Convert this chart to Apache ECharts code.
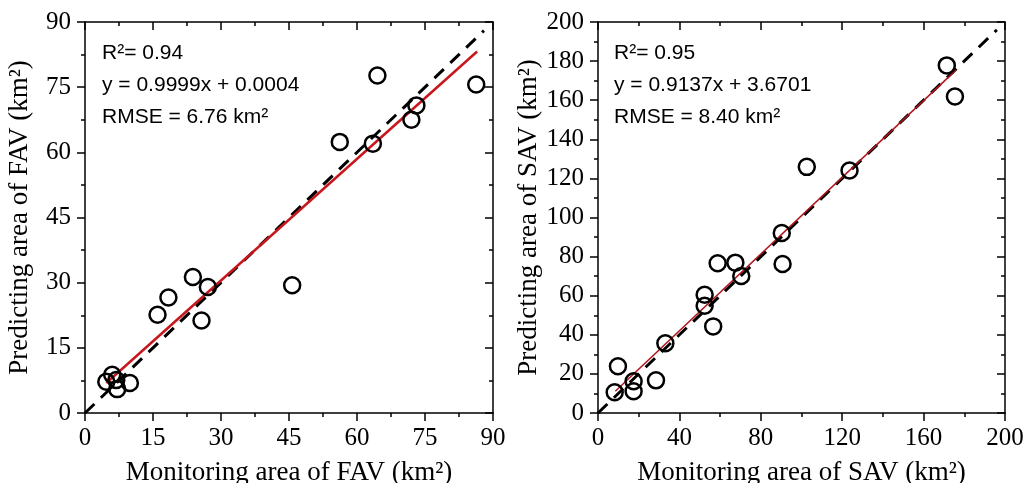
<!DOCTYPE html>
<html>
<head>
<meta charset="utf-8">
<script src="https://cdn.jsdelivr.net/npm/echarts@6/dist/echarts.min.js"></script>
<style>html,body{margin:0;padding:0;background:#fff}#c{width:1025px;height:483px}</style>
</head>
<body>
<div id="c"></div>
<script>
// FAV panel data (monitoring km², predicting km²)
const favMonitor = [86.3, 64.5, 73.1, 72.0, 63.5, 56.2, 45.7, 23.8, 27.1, 18.4, 16.0, 25.7, 4.7, 6.0, 6.9, 7.1, 9.9];
const favPredict = [75.6, 77.7, 70.8, 67.5, 62.0, 62.4, 29.4, 31.3, 29.0, 26.6, 22.6, 21.3, 7.2, 8.8, 7.6, 5.5, 6.9];
const favFitX = [4.7, 86.5];
const favFitY = [6.9, 83.2];
const favOneX = [0, 88];
const favOneY = [0, 88];
const favTicks = {min: 0, max: 90, interval: 15};
const favText = ['R²= 0.94', 'y = 0.9999x + 0.0004', 'RMSE = 6.76 km²'];

// SAV panel data
const savMonitor = [171.4, 175.4, 102.6, 123.6, 90.3, 90.7, 58.8, 67.5, 70.4, 52.4, 52.4, 56.6, 33.1, 9.8, 8.2, 17.5, 17.5, 28.5];
const savPredict = [177.8, 161.9, 125.9, 124.0, 92.1, 76.2, 76.6, 76.9, 70.1, 60.5, 54.9, 44.3, 35.7, 23.9, 10.6, 16.2, 11.1, 16.7];
const savFitX = [8.5, 176];
const savFitY = [11.1, 175.5];
const savOneX = [0, 196];
const savOneY = [0, 196];
const savXTicks = {min: 0, max: 200, interval: 40};
const savYTicks = {min: 0, max: 200, interval: 20};
const savText = ['R²= 0.95', 'y = 0.9137x + 3.6701', 'RMSE = 8.40 km²'];

const xNames = ['Monitoring area of FAV (km²)', 'Monitoring area of SAV (km²)'];
const yNames = ['Predicting area of FAV (km²)', 'Predicting area of SAV (km²)'];

const SERIF = 'Liberation Serif';
const zip = (a, b) => a.map((v, i) => [v, b[i]]);

function mainAxis(pos, t, gridIndex, name, isY) {
  return {
    type: 'value', gridIndex, position: pos, min: t.min, max: t.max, interval: t.interval,
    name, nameLocation: 'middle', nameGap: isY ? 52 : 46,
    nameTextStyle: {fontFamily: SERIF, fontSize: 27, color: '#000'},
    axisLine: {show: true, onZero: false, lineStyle: {color: '#000', width: 1.5}},
    axisTick: {show: true, inside: false, length: 8, lineStyle: {color: '#000', width: 1.5}},
    minorTick: {show: true, splitNumber: 2, length: 4, lineStyle: {color: '#000', width: 1.5}},
    axisLabel: {show: true, margin: isY ? 14 : 13, fontFamily: SERIF, fontSize: 25, color: '#000'},
    splitLine: {show: false}
  };
}
function mirrorAxis(pos, t, gridIndex) {
  return {
    type: 'value', gridIndex, position: pos, min: t.min, max: t.max, interval: t.interval,
    axisLine: {show: true, onZero: false, lineStyle: {color: '#000', width: 1.5}},
    axisTick: {show: true, inside: true, length: 8, lineStyle: {color: '#000', width: 1.5}},
    minorTick: {show: true, splitNumber: 2, length: 4, lineStyle: {color: '#000', width: 1.5}},
    axisLabel: {show: false},
    splitLine: {show: false}
  };
}

function texts(lines, x) {
  const ys = [53, 85, 117];
  return lines.map((t, i) => ({
    type: 'text', x: x, y: ys[i],
    style: {text: t, x: 0, y: 0, fill: '#000', font: '21px "Liberation Sans"', textVerticalAlign: 'middle', textAlign: 'left'},
    z: 10
  }));
}

const chart = echarts.init(document.getElementById('c'), null, {renderer: 'canvas'});
chart.setOption({
  animation: false,
  backgroundColor: '#fff',
  grid: [
    {left: 85, top: 22, width: 408, height: 391, containLabel: false, outerBoundsMode: 'none'},
    {left: 598, top: 22, width: 407, height: 391, containLabel: false, outerBoundsMode: 'none'}
  ],
  xAxis: [
    mainAxis('bottom', favTicks, 0, xNames[0], false),
    mirrorAxis('top', favTicks, 0),
    mainAxis('bottom', savXTicks, 1, xNames[1], false),
    mirrorAxis('top', savXTicks, 1)
  ],
  yAxis: [
    mainAxis('left', favTicks, 0, yNames[0], true),
    mirrorAxis('right', favTicks, 0),
    mainAxis('left', savYTicks, 1, yNames[1], true),
    mirrorAxis('right', savYTicks, 1)
  ],
  series: [
    {type: 'line', xAxisIndex: 0, yAxisIndex: 0, data: zip(favOneX, favOneY), showSymbol: false,
     lineStyle: {color: '#000', width: 3, type: [13, 9]}, z: 2},
    {type: 'line', xAxisIndex: 0, yAxisIndex: 0, data: zip(favFitX, favFitY), showSymbol: false,
     lineStyle: {color: '#c8161d', width: 2.5}, z: 3},
    {type: 'scatter', xAxisIndex: 0, yAxisIndex: 0, data: zip(favMonitor, favPredict), symbol: 'circle', symbolSize: 16,
     itemStyle: {color: 'rgba(0,0,0,0)', borderColor: '#000', borderWidth: 2.5, opacity: 1}, z: 4},
    {type: 'line', xAxisIndex: 2, yAxisIndex: 2, data: zip(savOneX, savOneY), showSymbol: false,
     lineStyle: {color: '#000', width: 3, type: [13, 9]}, z: 2},
    {type: 'line', xAxisIndex: 2, yAxisIndex: 2, data: zip(savFitX, savFitY), showSymbol: false,
     lineStyle: {color: '#b0141a', width: 1.5}, z: 3},
    {type: 'scatter', xAxisIndex: 2, yAxisIndex: 2, data: zip(savMonitor, savPredict), symbol: 'circle', symbolSize: 16,
     itemStyle: {color: 'rgba(0,0,0,0)', borderColor: '#000', borderWidth: 2.5, opacity: 1}, z: 4}
  ],
  graphic: texts(favText, 102).concat(texts(savText, 614))
});
</script>
</body>
</html>
